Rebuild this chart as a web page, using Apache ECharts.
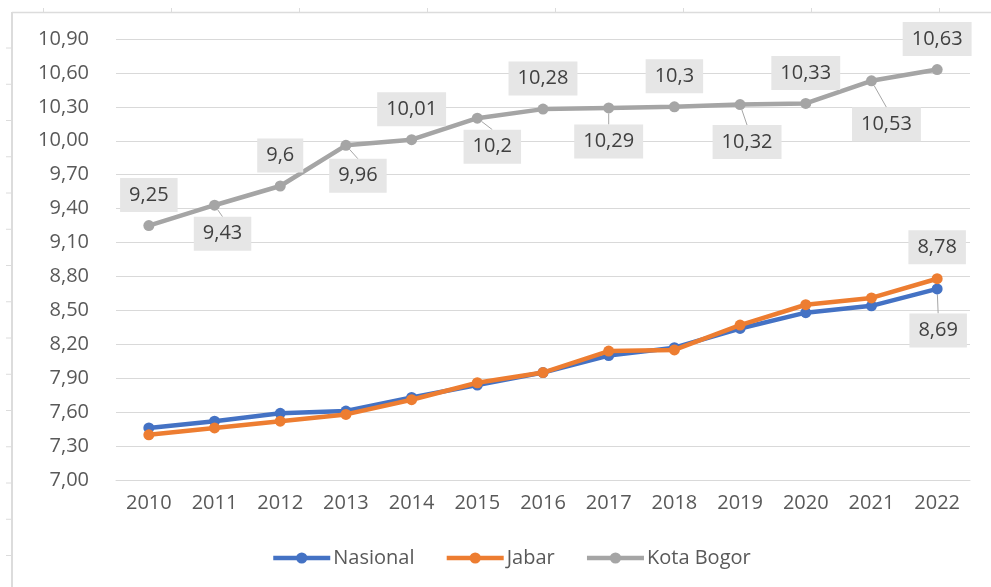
<!DOCTYPE html>
<html>
<head>
<meta charset="utf-8">
<script src="https://cdn.jsdelivr.net/npm/echarts@6/dist/echarts.min.js"></script>
<style>
  html, body { margin: 0; padding: 0; background: #ffffff; }
  #chart { width: 991px; height: 587px; }
</style>
</head>
<body>
<div id="chart"></div>
<script>
// ---- data ----
const years = ['2010','2011','2012','2013','2014','2015','2016','2017','2018','2019','2020','2021','2022'];
const nasional = [7.46, 7.52, 7.59, 7.61, 7.73, 7.84, 7.95, 8.10, 8.17, 8.34, 8.48, 8.54, 8.69];
const jabar    = [7.40, 7.46, 7.52, 7.58, 7.71, 7.86, 7.95, 8.14, 8.15, 8.37, 8.55, 8.61, 8.78];
const bogor    = [9.25, 9.43, 9.60, 9.96, 10.01, 10.20, 10.28, 10.29, 10.30, 10.32, 10.33, 10.53, 10.63];
const yTicks   = [7.00, 7.30, 7.60, 7.90, 8.20, 8.50, 8.80, 9.10, 9.40, 9.70, 10.00, 10.30, 10.60, 10.90];
const seriesNames = ['Nasional', 'Jabar', 'Kota Bogor'];

// ---- label placement (layout only) ----
const bogorNudge = [[0,0],[8,-2],[0,0],[12,0],[0,0],[15,-2],[0,0],[0,3],[0,0],[7,7],[0,0],[15,13],[0,0]];

const FONT = '"Open Sans", "Noto Sans", sans-serif';
const fmt = v => String(Math.round(v * 100) / 100).replace('.', ',');
const labelBox = {
  show: true,
  color: '#404040',
  fontSize: 20,
  lineHeight: 20,
  fontFamily: FONT,
  backgroundColor: '#e6e6e6',
  padding: [7, 9, 7, 9],
  distance: 8,
  formatter: p => fmt(p.value)
};

const bogorData = bogor.map((v, i) => ({
  value: v,
  label: Object.assign({}, labelBox, { position: i % 2 ? 'bottom' : 'top' }),
  labelLine: { show: i % 2 === 1 }
}));
const last = years.length - 1;
const nasData = nasional.map((v, i) => i === last
  ? { value: v, label: Object.assign({}, labelBox, { position: 'bottom' }), labelLine: { show: true } }
  : { value: v });
const jabData = jabar.map((v, i) => i === last
  ? { value: v, label: Object.assign({}, labelBox, { position: 'top', distance: 9 }) }
  : { value: v });

// decorative page frame (ruler-like border)
const frame = [];
const frameColor = '#dcdcdc';
frame.push({ type: 'line', shape: { x1: 12, y1: 12, x2: 12, y2: 587 }, style: { stroke: frameColor, lineWidth: 2 }, silent: true });
frame.push({ type: 'line', shape: { x1: 12, y1: 12.5, x2: 991, y2: 12.5 }, style: { stroke: frameColor, lineWidth: 1.5 }, silent: true });
for (let k = 0; k < 15; k++) {
  const y = 48 + k * 36.25;
  frame.push({ type: 'line', shape: { x1: 6, y1: y, x2: 12, y2: y }, style: { stroke: frameColor, lineWidth: 1 }, silent: true });
}
for (let k = 0; k < 8; k++) {
  const x = 43.5 + k * 128;
  frame.push({ type: 'line', shape: { x1: x, y1: 8, x2: x, y2: 12 }, style: { stroke: frameColor, lineWidth: 1 }, silent: true });
}

const common = {
  type: 'line',
  symbol: 'circle',
  symbolSize: 11,
  lineStyle: { width: 4.5 },
  emphasis: { disabled: true },
  labelLine: { lineStyle: { color: '#a6a6a6', width: 1 } }
};

const chart = echarts.init(document.getElementById('chart'), null, { renderer: 'canvas' });
chart.setOption({
  animation: false,
  backgroundColor: '#ffffff',
  color: ['#4472C4', '#ED7D31', '#A5A5A5'],
  textStyle: { fontFamily: FONT },
  graphic: frame,
  grid: { left: 116, right: 21, top: 39, bottom: 107, containLabel: false },
  legend: {
    data: seriesNames,
    left: 266,
    top: 543,
    itemWidth: 57,
    itemHeight: 14,
    itemGap: 30,
    lineStyle: { width: 4.5 },
    textStyle: { color: '#595959', fontSize: 20, fontFamily: FONT, padding: [0, 0, 0, -2] },
    selectedMode: false
  },
  xAxis: {
    type: 'category',
    data: years,
    boundaryGap: true,
    axisLine: { show: true, lineStyle: { color: '#d9d9d9', width: 1 } },
    axisTick: { show: false },
    axisLabel: { color: '#595959', fontSize: 20, fontFamily: FONT, margin: 13 },
    splitLine: { show: false }
  },
  yAxis: {
    type: 'value',
    min: yTicks[0],
    max: yTicks[yTicks.length - 1],
    axisLine: { show: false },
    axisTick: { show: false, customValues: yTicks },
    axisLabel: {
      customValues: yTicks,
      color: '#595959', fontSize: 20, fontFamily: FONT, margin: 27,
      formatter: v => v.toFixed(2).replace('.', ',')
    },
    splitLine: { show: true, lineStyle: { color: '#d9d9d9', width: 1 } }
  },
  series: [
    Object.assign({}, common, { name: seriesNames[0], data: nasData, z: 2,
      labelLayout: p => (p.dataIndex === last ? { dx: 1, dy: 11 } : {}) }),
    Object.assign({}, common, { name: seriesNames[1], data: jabData, z: 3 }),
    Object.assign({}, common, { name: seriesNames[2], data: bogorData, z: 4,
      labelLayout: p => { const n = bogorNudge[p.dataIndex] || [0, 0]; return { dx: n[0], dy: n[1] }; } })
  ]
});
</script>
</body>
</html>
